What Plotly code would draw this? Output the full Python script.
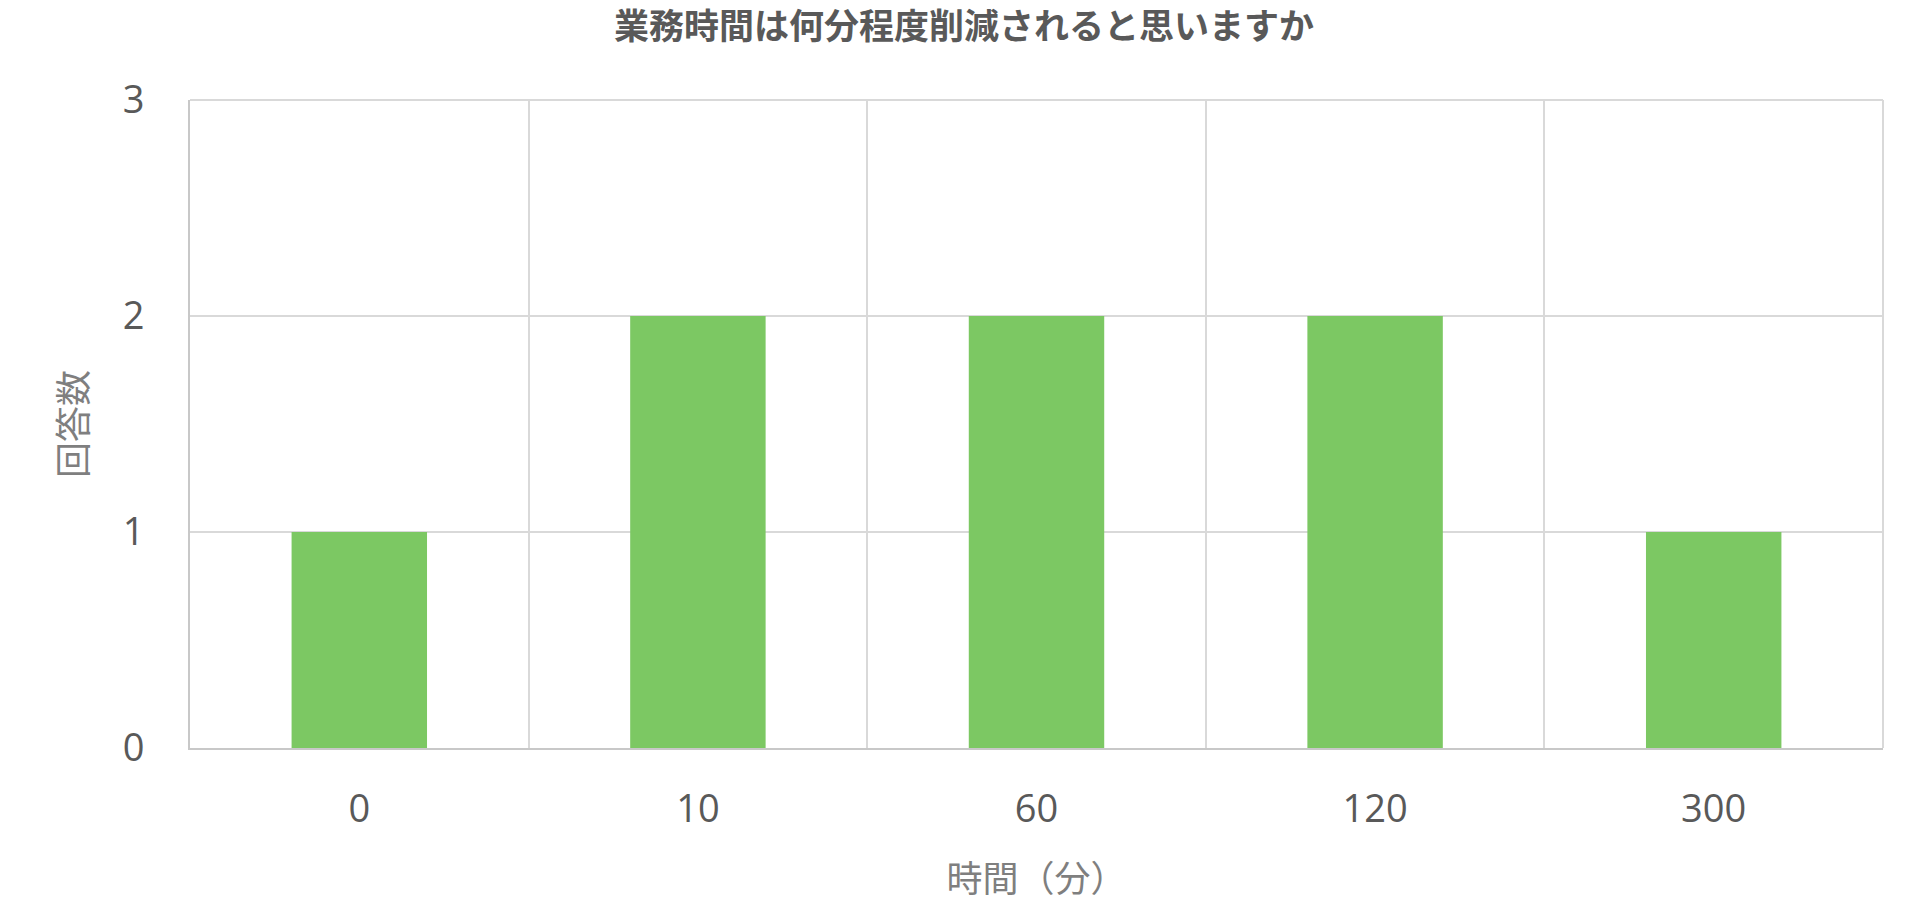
import plotly.graph_objects as go

# Survey answers: expected reduction of working time (minutes) and count of answers
minutes = ['0', '10', '60', '120', '300']
answers = [1, 2, 2, 2, 1]
y_ticks = [0, 1, 2, 3]

FONT = 'Open Sans, Noto Sans CJK JP, sans-serif'
GRID = '#d9d9d9'
LINE = '#c8c8c8'

# the page adds an 8px body margin, so the figure is 8px smaller on each side
W, H = 1912, 901

fig = go.Figure(go.Bar(
    x=minutes,
    y=answers,
    marker=dict(color='#7cc863', line=dict(width=0)),
    hoverinfo='x+y',
))

fig.update_layout(
    width=W,
    height=H,
    paper_bgcolor='white',
    plot_bgcolor='white',
    margin=dict(l=182, r=37, t=92, b=161),
    bargap=0.6,
    showlegend=False,
    font=dict(family=FONT, color='#595959'),
    title=dict(
        text='<b>業務時間は何分程度削減されると思いますか</b>',
        font=dict(family='Noto Sans CJK JP, sans-serif', size=35, color='#595959'),
        xref='container', x=0.5, xanchor='center',
        yref='container', y=1 - 19 / H, yanchor='middle',
    ),
    xaxis=dict(
        type='category',
        tickson='boundaries',
        ticks='',
        automargin=False,
        showgrid=True,
        gridcolor=GRID,
        gridwidth=2,
        showline=True,
        linecolor=LINE,
        linewidth=2,
        tickfont=dict(size=38, color='#595959'),
        ticklabelstandoff=26,
        title=dict(text='時間（分）', font=dict(size=36, color='#7f7f7f'), standoff=35),
    ),
    yaxis=dict(
        range=[0, 3],
        tickvals=y_ticks,
        ticks='',
        automargin=False,
        showgrid=True,
        gridcolor=GRID,
        gridwidth=2,
        zeroline=False,
        showline=True,
        linecolor=LINE,
        linewidth=2,
        tickfont=dict(size=38, color='#595959'),
        ticklabelstandoff=36,
        title=dict(text='回答数', font=dict(size=36, color='#7f7f7f'), standoff=24),
    ),
)

# light frame on the top and right edges like the grid
fig.add_shape(type='line', xref='paper', yref='paper', x0=1, x1=1, y0=0, y1=1,
              line=dict(color=GRID, width=2), layer='below')
fig.add_shape(type='line', xref='paper', yref='paper', x0=0, x1=1, y0=1, y1=1,
              line=dict(color=GRID, width=2), layer='below')

fig.write_html('out.html')
